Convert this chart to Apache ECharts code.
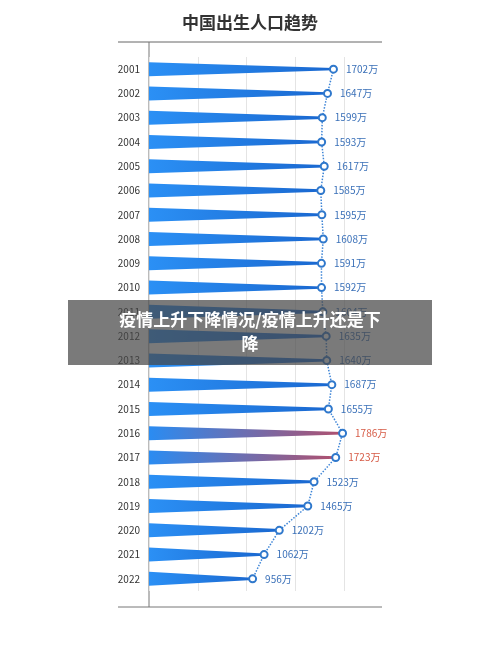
<!DOCTYPE html><html><head><meta charset="utf-8"><script src="https://cdn.jsdelivr.net/npm/echarts@6/dist/echarts.min.js"></script>
<style>body{margin:0}#c{width:500px;height:666px}</style></head><body><div id="c"></div><script>
const years=['2001','2002','2003','2004','2005','2006','2007','2008','2009','2010','2011','2012','2013','2014','2015','2016','2017','2018','2019','2020','2021','2022'];
const births=[1702,1647,1599,1593,1617,1585,1595,1608,1591,1592,1604,1635,1640,1687,1655,1786,1723,1523,1465,1202,1062,956];
const highlightYears=['2016','2017'];
const chart=echarts.init(document.getElementById('c'));
const F='"Noto Sans CJK SC","Noto Sans",sans-serif';
function fill(i){
  if(highlightYears.includes(years[i])) return new echarts.graphic.LinearGradient(0,0,1,0,[{offset:0,color:'#2a8cf2'},{offset:1,color:'#b0506e'}]);
  return new echarts.graphic.LinearGradient(0,0,1,0,[{offset:0,color:'#2b90f5'},{offset:1,color:'#1a68d0'}]);
}
chart.setOption({
  animation:false,
  title:{text:'中国出生人口趋势',left:'center',top:9,textStyle:{fontFamily:F,fontSize:17,fontWeight:'bold',color:'#333'}},
  grid:{left:149,right:118,top:57,bottom:75},
  xAxis:{type:'value',min:0,max:2150,interval:450,axisLabel:{show:false},axisLine:{show:false},axisTick:{show:false},splitLine:{showMaxLine:false,lineStyle:{color:'#e4e4e4'}}},
  yAxis:{type:'category',data:years,inverse:true,axisLine:{show:false},axisTick:{show:false},axisLabel:{fontFamily:F,fontSize:10,color:'#333',margin:9}},
  series:[
    {type:'custom',data:births.map((v,i)=>[v,i]),renderItem:(p,api)=>{
      const i=api.value(1);const a=api.coord([0,i]);const b=api.coord([api.value(0),i]);const h=7;
      return {type:'polygon',shape:{points:[[a[0],a[1]-h],[b[0],b[1]-1.2],[b[0],b[1]+1.2],[a[0],a[1]+h]]},style:{fill:fill(i)}};
    },z:2},
    {type:'line',data:births,symbol:'circle',symbolSize:7,z:3,
      lineStyle:{type:'dotted',color:'#3d84d6',width:1.5},
      itemStyle:{color:'#fff',borderColor:'#2f78cc',borderWidth:2},
      label:{show:true,position:'right',distance:8,fontFamily:F,fontSize:10,
        formatter:p=>p.value+'万',
        color:'#3a70b8'},
      data:births.map((v,i)=>highlightYears.includes(years[i])?{value:v,label:{color:'#d65a45'}}:v)}
  ],
  graphic:[
    {type:'line',shape:{x1:118,y1:42,x2:382,y2:42},style:{stroke:'#666',lineWidth:1}},
    {type:'line',shape:{x1:118,y1:607,x2:382,y2:607},style:{stroke:'#777',lineWidth:1}},
    {type:'line',shape:{x1:149,y1:42,x2:149,y2:607},style:{stroke:'#777',lineWidth:1}},
    {type:'rect',shape:{x:68,y:300,width:364,height:65},style:{fill:'rgba(70,70,70,0.72)'},z:100},
    {type:'text',x:250,y:332,z:101,style:{text:'疫情上升下降情况/疫情上升还是下\n降',fill:'#fff',font:'bold 17px '+F,textAlign:'center',textVerticalAlign:'middle',lineHeight:24}}
  ]
});
</script></body></html>
